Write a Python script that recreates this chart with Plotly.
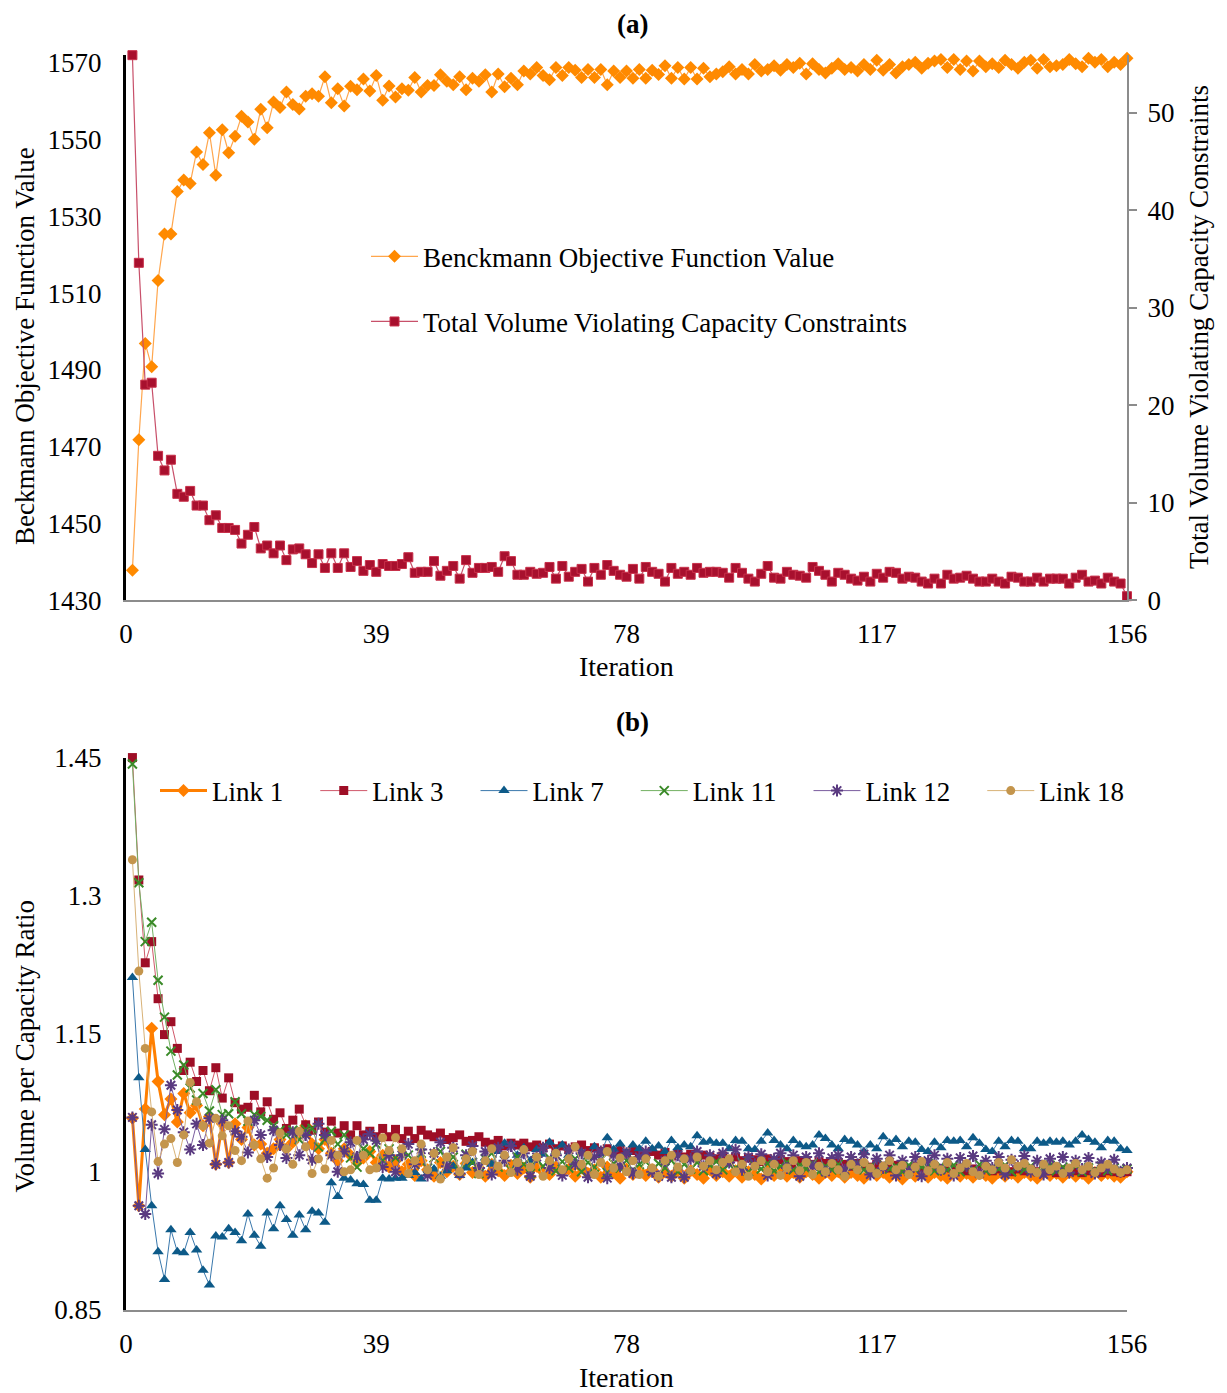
import plotly.graph_objects as go

iterations = list(range(1, 157))
x_ticks = [0, 39, 78, 117, 156]

beckmann = [
    1437.8, 1471.8, 1496.9, 1490.8, 1513.3, 1525.4, 1525.4, 1536.5, 1539.5, 1538.6,
    1546.8, 1543.5, 1551.8, 1540.7, 1552.6, 1546.6, 1550.9, 1556.1, 1554.6, 1550.1,
    1557.9, 1553.1, 1559.8, 1558.4, 1562.4, 1559.2, 1558.0, 1561.3, 1562.0, 1561.3,
    1566.4, 1559.6, 1563.3, 1558.8, 1563.9, 1563.0, 1565.8, 1562.7, 1566.7, 1560.3,
    1564.0, 1561.1, 1563.3, 1562.9, 1566.2, 1562.4, 1564.1, 1564.1, 1566.9, 1565.2,
    1564.3, 1566.4, 1563.0, 1566.0, 1565.2, 1566.9, 1562.4, 1567.1, 1563.8, 1566.0,
    1564.3, 1567.9, 1567.1, 1568.8, 1566.7, 1565.6, 1568.8, 1566.7, 1568.8, 1568.1,
    1566.2, 1568.3, 1566.2, 1568.3, 1564.3, 1567.9, 1566.2, 1567.9, 1566.0, 1568.3,
    1566.0, 1568.1, 1567.0, 1569.3, 1566.0, 1568.8, 1565.8, 1568.8, 1565.8, 1568.6,
    1566.4, 1567.1, 1567.7, 1569.0, 1567.1, 1568.3, 1567.1, 1569.6, 1567.9, 1568.3,
    1569.3, 1568.1, 1569.6, 1568.8, 1569.9, 1567.1, 1569.8, 1568.3, 1567.4, 1568.6,
    1569.8, 1568.3, 1568.8, 1567.9, 1569.6, 1568.3, 1570.7, 1568.1, 1569.6, 1567.4,
    1569.0, 1569.6, 1570.2, 1568.6, 1569.9, 1570.5, 1570.9, 1568.8, 1570.9, 1568.3,
    1570.5, 1567.9, 1570.5, 1569.0, 1569.8, 1568.8, 1570.7, 1569.6, 1568.6, 1570.2,
    1570.7, 1568.6, 1570.9, 1569.0, 1569.3, 1569.6, 1570.9, 1569.8, 1569.0, 1571.2,
    1570.2, 1570.9, 1569.0, 1570.2, 1569.6, 1571.2,
]

violation = [
    55.9, 34.6, 22.1, 22.3, 14.8, 13.3, 14.4, 10.9, 10.6, 11.2,
    9.7, 9.7, 8.2, 8.7, 7.4, 7.4, 7.2, 5.8, 6.7, 7.5,
    5.3, 5.6, 4.8, 5.6, 4.1, 5.2, 5.3, 4.7, 3.8, 4.7,
    3.3, 4.8, 3.3, 4.8, 3.4, 4.0, 3.0, 3.6, 2.9, 3.7,
    3.5, 3.5, 3.7, 4.4, 2.8, 2.9, 2.9, 4.0, 2.5, 3.0,
    3.5, 2.2, 4.1, 2.8, 3.3, 3.3, 3.4, 2.9, 4.5, 4.0,
    2.6, 2.6, 2.9, 2.7, 2.8, 3.4, 2.2, 3.5, 2.4, 2.9,
    3.2, 1.9, 3.3, 2.6, 3.6, 3.0, 2.6, 2.4, 3.2, 2.2,
    3.4, 2.9, 2.7, 1.9, 3.3, 2.7, 2.9, 2.6, 3.3, 2.8,
    2.9, 2.9, 2.8, 2.3, 3.3, 2.8, 2.2, 1.9, 2.7, 3.5,
    2.3, 2.2, 2.9, 2.6, 2.5, 2.3, 3.4, 3.0, 2.6, 1.9,
    2.8, 2.6, 2.2, 2.0, 2.4, 1.9, 2.7, 2.3, 2.9, 2.8,
    2.2, 2.4, 2.3, 1.9, 1.7, 2.2, 1.7, 2.6, 2.2, 2.3,
    2.5, 2.2, 1.9, 1.9, 2.2, 1.9, 1.7, 2.4, 2.3, 1.9,
    1.9, 2.3, 1.9, 2.2, 2.2, 2.2, 1.7, 2.3, 2.6, 1.9,
    2.0, 1.7, 2.3, 1.9, 1.7, 0.4,
]

link1 = [
    1.058, 0.963, 1.068, 1.156, 1.098, 1.062, 1.079, 1.054, 1.085, 1.064,
    1.072, 1.050, 1.060, 1.008, 1.052, 1.010, 1.052, 1.035, 1.048, 1.029,
    1.030, 1.020, 1.025, 1.035, 1.025, 1.032, 1.040, 1.050, 1.030, 1.025,
    1.035, 1.020, 1.012, 1.025, 1.018, 1.010, 1.015, 1.022, 1.010, 1.018,
    1.005, 1.012, 1.000, 1.008, 0.996, 1.012, 1.002, 0.995, 1.010, 1.000,
    1.006, 0.997, 1.009, 0.999, 1.004, 0.995, 1.008, 1.001, 0.996, 1.007,
    0.998, 1.004, 0.994, 1.006, 1.000, 0.997, 1.005, 0.999, 1.003, 0.995,
    1.004, 0.998, 1.002, 0.994, 1.005, 0.999, 0.993, 1.003, 0.997, 1.001,
    0.996, 1.002, 0.994, 1.000, 0.995, 1.001, 0.993, 1.001, 0.997, 0.993,
    1.002, 0.996, 1.000, 0.995, 1.001, 0.994, 1.000, 0.997, 0.992, 1.001,
    0.996, 1.000, 0.995, 0.999, 0.994, 1.000, 0.997, 0.993, 0.999, 0.996,
    1.000, 0.994, 0.999, 0.996, 0.993, 1.000, 0.996, 0.999, 0.994, 0.998,
    0.992, 0.999, 0.995, 0.998, 0.994, 0.999, 0.996, 0.993, 0.999, 0.995,
    0.998, 0.994, 0.999, 0.996, 0.993, 0.999, 0.995, 0.998, 0.994, 0.999,
    0.996, 0.993, 0.999, 0.996, 0.998, 0.994, 0.999, 0.995, 0.998, 0.993,
    0.999, 0.996, 0.998, 0.995, 0.994, 1.000,
]

link3 = [
    1.450, 1.317, 1.227, 1.250, 1.188, 1.149, 1.163, 1.134, 1.110, 1.119,
    1.098, 1.110, 1.088, 1.113, 1.080, 1.102, 1.075, 1.068, 1.070, 1.083,
    1.065, 1.076, 1.057, 1.064, 1.047, 1.056, 1.068, 1.051, 1.045, 1.054,
    1.043, 1.055, 1.042, 1.050, 1.040, 1.050, 1.040, 1.044, 1.038, 1.047,
    1.038, 1.046, 1.036, 1.044, 1.036, 1.045, 1.040, 1.038, 1.042, 1.035,
    1.037, 1.040, 1.033, 1.034, 1.038, 1.032, 1.030, 1.034, 1.028, 1.031,
    1.029, 1.031, 1.027, 1.029, 1.026, 1.030, 1.025, 1.028, 1.024, 1.027,
    1.029, 1.023, 1.026, 1.022, 1.025, 1.021, 1.024, 1.020, 1.023, 1.021,
    1.019, 1.022, 1.018, 1.021, 1.017, 1.020, 1.016, 1.019, 1.015, 1.018,
    1.016, 1.014, 1.017, 1.013, 1.016, 1.012, 1.015, 1.013, 1.011, 1.014,
    1.010, 1.013, 1.011, 1.009, 1.012, 1.010, 1.008, 1.011, 1.009, 1.007,
    1.010, 1.008, 1.006, 1.009, 1.007, 1.005, 1.008, 1.006, 1.004, 1.007,
    1.005, 1.003, 1.006, 1.004, 1.002, 1.005, 1.003, 1.004, 1.002, 1.004,
    1.001, 1.003, 1.002, 1.004, 1.001, 1.003, 1.002, 1.000, 1.003, 1.001,
    1.002, 1.000, 1.002, 1.001, 0.999, 1.002, 1.000, 1.001, 0.999, 1.001,
    1.000, 0.999, 1.001, 1.000, 0.999, 1.000,
]

link7 = [
    1.211, 1.102, 1.024, 0.963, 0.913, 0.883, 0.937, 0.913, 0.912, 0.934,
    0.915, 0.893, 0.877, 0.930, 0.929, 0.938, 0.934, 0.925, 0.954, 0.931,
    0.919, 0.955, 0.938, 0.963, 0.948, 0.931, 0.953, 0.937, 0.957, 0.955,
    0.945, 0.988, 0.973, 0.993, 0.991, 0.987, 0.986, 0.969, 0.969, 0.993,
    0.992, 0.993, 0.993, 0.996, 0.999, 0.992, 0.998, 1.003, 0.995, 1.001,
    1.006, 0.996, 1.004, 1.010, 1.004, 1.015, 1.008, 1.022, 1.031, 1.030,
    1.018, 1.026, 1.012, 1.024, 1.019, 1.032, 1.022, 1.029, 1.018, 1.026,
    1.021, 1.016, 1.027, 1.020, 1.037, 1.024, 1.030, 1.021, 1.029, 1.025,
    1.033, 1.025, 1.028, 1.022, 1.034, 1.026, 1.029, 1.027, 1.039, 1.032,
    1.033, 1.031, 1.031, 1.025, 1.034, 1.033, 1.025, 1.024, 1.033, 1.042,
    1.034, 1.029, 1.025, 1.034, 1.029, 1.027, 1.029, 1.040, 1.036, 1.029,
    1.025, 1.035, 1.033, 1.029, 1.022, 1.029, 1.025, 1.038, 1.031, 1.035,
    1.027, 1.033, 1.032, 1.024, 1.022, 1.032, 1.026, 1.034, 1.033, 1.034,
    1.027, 1.037, 1.031, 1.024, 1.022, 1.033, 1.027, 1.034, 1.033, 1.025,
    1.025, 1.033, 1.031, 1.033, 1.032, 1.033, 1.029, 1.033, 1.040, 1.035,
    1.032, 1.026, 1.034, 1.033, 1.025, 1.023,
]

link11 = [
    1.443, 1.314, 1.250, 1.271, 1.208, 1.168, 1.131, 1.105, 1.116, 1.091,
    1.078, 1.085, 1.066, 1.089, 1.062, 1.063, 1.076, 1.063, 1.055, 1.062,
    1.060, 1.056, 1.050, 1.045, 1.040, 1.045, 1.035, 1.046, 1.047, 1.027,
    1.035, 1.044, 1.030, 1.040, 1.015, 1.005, 1.025, 1.020, 1.030, 1.012,
    1.025, 1.015, 1.022, 1.018, 1.008, 1.020, 1.004, 1.015, 1.022, 1.006,
    1.016, 1.002, 1.019, 1.010, 0.998, 1.014, 1.020, 1.005, 1.012, 1.002,
    1.016, 1.008, 0.998, 1.013, 1.006, 1.015, 1.001, 1.011, 1.004, 1.014,
    1.000, 1.010, 1.005, 1.013, 0.999, 1.009, 1.004, 1.012, 1.002, 1.008,
    1.011, 1.001, 1.009, 1.004, 1.012, 1.000, 1.008, 1.003, 1.010, 1.001,
    1.007, 1.011, 1.002, 1.008, 1.004, 1.010, 1.000, 1.007, 1.003, 1.009,
    1.001, 1.006, 1.010, 1.002, 1.007, 1.003, 1.009, 1.000, 1.006, 1.002,
    1.008, 1.001, 1.005, 1.009, 1.002, 1.006, 1.001, 1.008, 1.003, 1.006,
    1.000, 1.007, 1.002, 1.005, 1.009, 1.001, 1.006, 1.002, 1.007, 1.000,
    1.005, 1.002, 1.008, 1.001, 1.005, 1.003, 1.007, 1.000, 1.005, 1.002,
    1.006, 1.001, 1.004, 1.007, 1.001, 1.005, 1.002, 1.006, 1.000, 1.004,
    1.002, 1.006, 1.001, 1.004, 1.002, 1.003,
]

link12 = [
    1.059, 0.963, 0.954, 1.051, 0.998, 1.046, 1.094, 1.067, 1.043, 1.024,
    1.052, 1.029, 1.058, 1.008, 1.056, 1.010, 1.044, 1.038, 1.021, 1.056,
    1.040, 1.016, 1.045, 1.029, 1.015, 1.043, 1.018, 1.040, 1.013, 1.052,
    1.040, 1.018, 1.000, 1.022, 1.032, 1.016, 1.035, 1.041, 1.034, 1.005,
    1.018, 1.000, 1.018, 1.030, 1.008, 1.024, 0.996, 1.020, 1.032, 1.006,
    1.026, 0.998, 1.018, 1.028, 1.004, 1.022, 0.997, 1.026, 1.012, 1.028,
    1.002, 1.020, 0.995, 1.016, 1.026, 1.004, 1.018, 0.996, 1.024, 1.008,
    1.020, 0.994, 1.016, 1.022, 0.993, 1.018, 1.006, 1.020, 0.998, 1.016,
    1.022, 1.000, 0.995, 1.012, 0.994, 1.018, 0.994, 1.014, 1.022, 1.006,
    1.018, 0.998, 1.020, 1.010, 1.024, 1.002, 1.016, 1.008, 1.019, 0.996,
    1.014, 1.020, 1.004, 1.018, 0.995, 1.016, 1.006, 1.020, 1.000, 1.015,
    1.018, 1.002, 1.016, 1.008, 1.019, 0.997, 1.014, 1.004, 1.018, 0.996,
    1.012, 1.000, 1.016, 0.995, 1.012, 1.018, 1.002, 1.014, 0.996, 1.015,
    1.006, 1.017, 0.998, 1.012, 1.004, 1.016, 0.997, 1.013, 1.006, 1.017,
    1.000, 1.012, 0.997, 1.014, 1.004, 1.016, 0.999, 1.012, 1.003, 1.015,
    0.998, 1.010, 1.004, 1.013, 1.000, 1.004,
]

link18 = [
    1.339, 1.218, 1.134, 1.065, 1.011, 1.030, 1.036, 1.010, 1.040, 1.097,
    1.076, 1.050, 1.031, 1.058, 1.039, 1.050, 1.023, 1.012, 1.055, 1.029,
    1.014, 0.993, 1.004, 1.042, 1.025, 1.008, 1.044, 1.027, 0.998, 1.014,
    1.003, 1.034, 1.018, 1.000, 1.002, 1.034, 1.018, 1.002, 1.004, 1.037,
    1.023, 1.037, 1.025, 0.998, 1.012, 1.030, 1.002, 1.020, 0.992, 1.016,
    1.026, 1.000, 1.014, 1.022, 0.997, 1.012, 1.025, 1.006, 1.018, 0.999,
    1.010, 1.024, 1.005, 1.016, 0.995, 1.012, 1.020, 1.002, 1.014, 1.027,
    1.008, 1.018, 0.997, 1.010, 1.022, 1.004, 1.015, 1.000, 1.012, 0.997,
    1.014, 1.004, 0.995, 1.012, 1.018, 1.005, 1.014, 1.001, 1.016, 1.006,
    1.012, 1.002, 1.010, 1.014, 1.000, 1.008, 0.995, 1.006, 1.012, 1.000,
    1.008, 0.996, 1.004, 1.012, 1.001, 1.010, 0.997, 1.006, 1.000, 1.009,
    1.002, 0.995, 1.008, 1.002, 1.010, 1.004, 0.998, 1.006, 1.012, 1.002,
    1.007, 0.997, 1.005, 1.011, 1.001, 1.008, 1.002, 1.010, 0.998, 1.004,
    1.009, 1.000, 0.996, 1.006, 1.002, 1.010, 1.004, 1.013, 1.006, 1.009,
    1.003, 0.999, 1.008, 1.002, 1.006, 0.998, 1.004, 1.009, 1.002, 1.006,
    0.999, 1.004, 1.008, 1.003, 0.999, 1.002,
]

for name, s in [("beckmann", beckmann), ("violation", violation), ("link1", link1),
                ("link3", link3), ("link7", link7), ("link11", link11),
                ("link12", link12), ("link18", link18)]:
    assert len(s) == 156, (name, len(s))

FONT = "Liberation Serif"
W, H = 1227, 1393
# observed screen mapping of the paper area (page offset included)
SCR_TOP, SCR_H = 21.0, 1367.5
SCR_LEFT, PLOT_W = 126.0, 1001.0
PAD = "\u00a0" * 4  # spacing after each horizontal legend entry


def py(s):
    return 1 - (s - SCR_TOP) / SCR_H


def px(s):
    return (s - SCR_LEFT) / PLOT_W


fig = go.Figure()

# ---- top panel ----
fig.add_trace(go.Scatter(
    x=iterations, y=beckmann, name="Benckmann Objective Function Value",
    mode="lines+markers", xaxis="x", yaxis="y", legend="legend", legendgroup="a1",
    line=dict(color="#FFA64D", width=1.2),
    marker=dict(symbol="diamond", size=10, color="#FF8A00"), cliponaxis=False))
fig.add_trace(go.Scatter(
    x=iterations, y=violation, name="Total Volume Violating Capacity Constraints",
    mode="lines+markers", xaxis="x", yaxis="y2", legend="legend", legendgroup="a2",
    line=dict(color="#C8506A", width=1.2),
    marker=dict(symbol="square", size=9, color="#A8102E",
                line=dict(color="#C8304A", width=1)), cliponaxis=False))

# ---- bottom panel ----
links = [
    ("Link 1", link1, "diamond", 10, "#FF7F00", "#FF7F00", 3),
    ("Link 3", link3, "square", 9, "#9E0E26", "#D0586A", 1),
    ("Link 7", link7, "triangle-up", 10, "#0D5A88", "#3A78AC", 1),
    ("Link 11", link11, "x-thin-open", 9, "#3A8A28", "#72B062", 1),
    ("Link 12", link12, "asterisk-open", 10, "#5A3A80", "#7A5C9E", 1),
    ("Link 18", link18, "circle", 9, "#C4954C", "#D8B277", 1),
]
for name, vals, sym, sz, mc, lc, lw in links:
    mk = dict(symbol=sym, size=sz, color=mc)
    if sym.endswith("-open"):
        mk["line"] = dict(color=mc, width=2)
    fig.add_trace(go.Scatter(
        x=iterations, y=vals, name=name + PAD, mode="lines+markers",
        xaxis="x2", yaxis="y3", legend="legend2",
        line=dict(color=lc, width=lw), marker=mk, cliponaxis=False))

tickfont = dict(family=FONT, size=27, color="black")
top_dom = [py(600), py(53)]
bot_dom = [py(1312), py(758)]

common_x = dict(range=[0, 156], tickvals=x_ticks, showgrid=False, zeroline=False,
                showline=True, linecolor="#8C8C8C", linewidth=2, ticks="",
                tickfont=tickfont, ticklabelstandoff=9)

fig.update_layout(
    width=W, height=H,
    margin=dict(l=118, r=108, t=0, b=0),
    paper_bgcolor="white", plot_bgcolor="white",
    font=dict(family=FONT, size=27, color="black"),
    xaxis=dict(domain=[0, 1], anchor="y", **common_x),
    yaxis=dict(domain=top_dom, anchor="x", range=[1430, 1572.1],
               tickvals=[1430, 1450, 1470, 1490, 1510, 1530, 1550, 1570],
               showgrid=False, zeroline=False, showline=True, linecolor="black",
               linewidth=3, ticks="", tickfont=tickfont, ticklabelstandoff=16),
    yaxis2=dict(overlaying="y", side="right", anchor="x", range=[0, 55.93],
                tickvals=[0, 10, 20, 30, 40, 50], showgrid=False, zeroline=False,
                showline=True, linecolor="#8C8C8C", linewidth=2, ticks="outside",
                ticklen=8, tickwidth=2, tickcolor="#8C8C8C", tickfont=tickfont,
                ticklabelstandoff=5),
    xaxis2=dict(domain=[0, 1], anchor="y3", **common_x),
    yaxis3=dict(domain=bot_dom, anchor="x2", range=[0.85, 1.45],
                tickvals=[0.85, 1.0, 1.15, 1.3, 1.45],
                ticktext=["0.85", "1", "1.15", "1.3", "1.45"],
                showgrid=False, zeroline=False, showline=True, linecolor="black",
                linewidth=3, ticks="", tickfont=tickfont, ticklabelstandoff=16),
    legend=dict(x=px(366), y=py(231), xanchor="left", yanchor="top",
                orientation="v", tracegroupgap=27, itemwidth=47,
                bgcolor="rgba(0,0,0,0)",
                font=dict(family=FONT, size=27, color="black")),
    legend2=dict(x=px(155), y=py(767), xanchor="left", yanchor="top",
                 orientation="h", bgcolor="rgba(0,0,0,0)", itemwidth=47,
                 font=dict(family=FONT, size=27, color="black")),
    showlegend=True,
)

annotations = []
for txt, xs, ys, size in [("<b>(a)</b>", 632, 22, 27), ("<b>(b)</b>", 632, 722, 27),
                          ("Iteration", 626, 667, 28), ("Iteration", 626, 1380, 28)]:
    annotations.append(dict(text=txt, xref="paper", yref="paper",
                            x=px(xs), y=py(ys), xanchor="center", yanchor="middle",
                            showarrow=False,
                            font=dict(family=FONT, size=size, color="black")))
for txt, xs, ys in [("Beckmann Objective Function Value", 25, 345),
                    ("Total Volume Violating Capacity Constraints", 1199, 326),
                    ("Volume per Capacity Ratio", 25, 1048)]:
    annotations.append(dict(text=txt, xref="paper", yref="paper",
                            x=px(xs), y=py(ys), textangle=-90,
                            xanchor="center", yanchor="middle", showarrow=False,
                            font=dict(family=FONT, size=27, color="black")))
fig.update_layout(annotations=annotations)

fig.write_html("out.html")
